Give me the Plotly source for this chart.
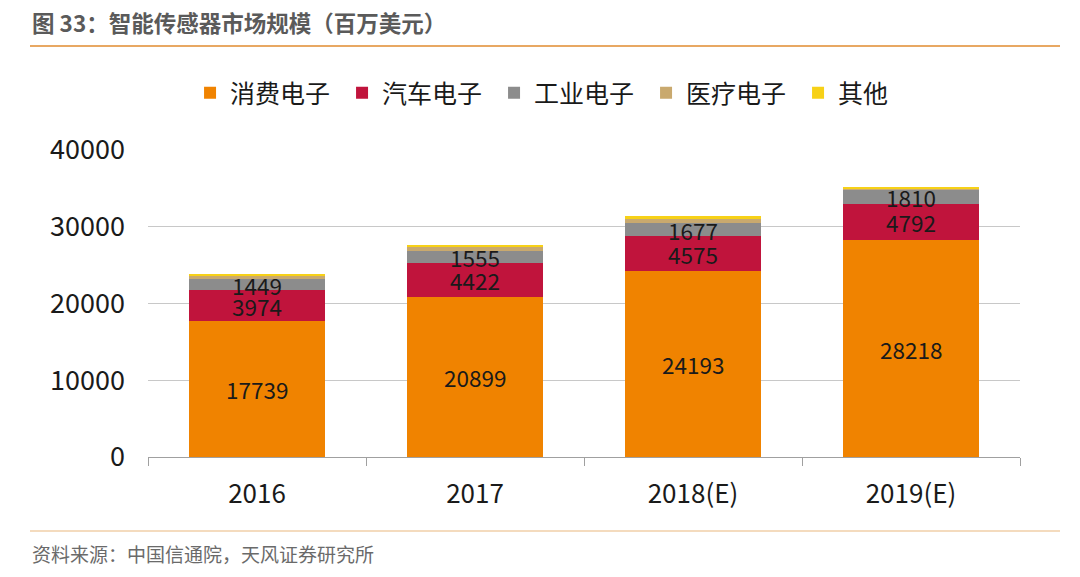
import plotly.graph_objects as go
import numpy as np

years = ["2016", "2017", "2018(E)", "2019(E)"]
consumer = [17739, 20899, 24193, 28218]
auto = [3974, 4422, 4575, 4792]
industrial = [1449, 1555, 1677, 1810]
medical = [420, 460, 520, 200]
other = [300, 320, 380, 130]

series = [
    ("消费电子", consumer, "#F08300"),
    ("汽车电子", auto, "#C0143C"),
    ("工业电子", industrial, "#8C8C8C"),
    ("医疗电子", medical, "#C9A96E"),
    ("其他", other, "#F7D117"),
]

FONT = "Noto Sans CJK SC"
fig = go.Figure()
for name, vals, col in series:
    fig.add_trace(go.Bar(x=years, y=vals, name=name, marker=dict(color=col, line=dict(width=0))))

# labels for first three series, centered on their segments
base = np.zeros(len(years))
for name, vals, col in series[:3]:
    v = np.array(vals, dtype=float)
    for i in range(len(years)):
        fig.add_annotation(x=i, y=base[i] + v[i] / 2, text=str(vals[i]), showarrow=False,
                           yshift=0, font=dict(family=FONT, size=22.5, color="#1a1a1a"))
    base = base + v

W, H = 1080, 577
L, R, T, B = 148, 60, 150, 120
PW, PH = W - L - R, H - T - B

fig.update_layout(
    barmode="stack",
    bargap=0.38,
    width=W, height=H,
    margin=dict(l=L, r=R, t=T, b=B, autoexpand=False),
    plot_bgcolor="white", paper_bgcolor="white",
    font=dict(family=FONT, color="#1a1a1a"),
    legend=dict(orientation="h", x=0.484, xanchor="center", y=1 - 93 / H, yanchor="middle",
                yref="container", font=dict(family=FONT, size=25, color="#1a1a1a"),
                itemwidth=30, entrywidth=107, traceorder="normal"),
    showlegend=True,
)
fig.update_yaxes(range=[0, 40000], dtick=10000, showgrid=True, gridcolor="#c8c8c8", gridwidth=1,
                 zeroline=False, tickfont=dict(size=27, family=FONT, color="#1a1a1a"),
                 showline=False, ticks="", tickformat="d", ticklabelstandoff=22)
fig.update_xaxes(type="category", showline=True, linecolor="#a0a0a0", linewidth=1, ticks="outside",
                 tickson="boundaries", ticklen=8, tickcolor="#a0a0a0", ticklabelstandoff=14,
                 tickfont=dict(size=26, family=FONT, color="#1a1a1a"))

# title, rules and source
fig.add_annotation(text="<b>图 33：智能传感器市场规模（百万美元）</b>", xref="paper", yref="paper",
                   x=(30 - L) / PW, y=1 + (T - 22) / PH, xanchor="left", yanchor="middle",
                   showarrow=False, font=dict(size=22.5, color="#5a5a5a", family=FONT))
fig.add_annotation(text="资料来源：中国信通院，天风证券研究所", xref="paper", yref="paper",
                   x=(30 - L) / PW, y=-(553 - (T + PH)) / PH, xanchor="left", yanchor="middle",
                   showarrow=False, font=dict(size=19, color="#6a6a6a", family=FONT))
fig.add_shape(type="line", xref="paper", yref="paper",
              x0=(30 - L) / PW, x1=(1060 - L) / PW, y0=1 + (T - 46) / PH, y1=1 + (T - 46) / PH,
              line=dict(color="#E8A863", width=2))
fig.add_shape(type="line", xref="paper", yref="paper",
              x0=(30 - L) / PW, x1=(1060 - L) / PW, y0=-(531 - (T + PH)) / PH, y1=-(531 - (T + PH)) / PH,
              line=dict(color="#F0CFA8", width=1.5))

fig.write_html("out.html")
